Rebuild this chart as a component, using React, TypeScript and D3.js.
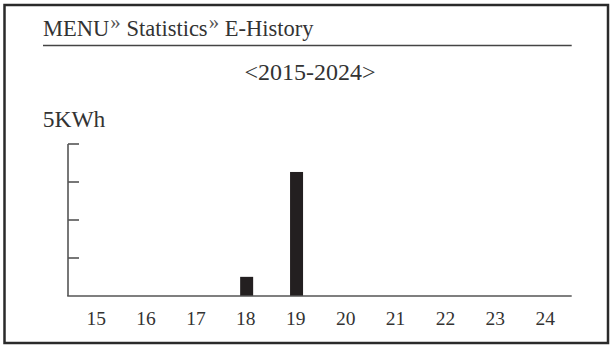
import React from "react";
import * as d3 from "d3";

const years = ["15", "16", "17", "18", "19", "20", "21", "22", "23", "24"];
const energy = [0, 0, 0, 0.63, 4.08, 0, 0, 0, 0, 0];
const yTicks = [1.25, 2.5, 3.75, 5];
const yMax = 5;
const unitLabel = "5KWh";
const rangeLabel = "<2015-2024>";
const crumbs = ["MENU", "Statistics", "E-History"];

export default function App() {
  const W = 612, H = 348;
  const x = d3.scaleBand<string>().domain(years).range([71.2, 570.2]).padding(0);
  const y = d3.scaleLinear().domain([0, yMax]).range([296, 144]);
  const barW = 13;
  const font = "'Liberation Serif', 'DejaVu Serif', serif";
  const textColor = "#333";
  const axisColor = "#555";

  return (
    <svg width={W} height={H} style={{ position: "absolute", left: 0, top: 0, background: "#fff" }}>
      <rect x={4.5} y={5} width={603.5} height={338} fill="#fff" stroke="#2a2a2a" strokeWidth={2.5} />
      <text x={43} y={36} fontFamily={font} fontSize={22.5} fill={textColor}>
        {crumbs.map((c, i) => (
          <React.Fragment key={c}>
            <tspan>{c}</tspan>
            {i < crumbs.length - 1 && (
              <>
                <tspan fontSize={21} dy={-7.5} dx={1} fill="#555">{"»"}</tspan>
                <tspan dy={7.5}>{" "}</tspan>
              </>
            )}
          </React.Fragment>
        ))}
      </text>
      <line x1={43} x2={571.7} y1={45.5} y2={45.5} stroke="#444" strokeWidth={1.5} />
      <text x={310} y={80} textAnchor="middle" fontFamily={font} fontSize={24} fill={textColor}>
        {rangeLabel}
      </text>
      <text x={42.7} y={127.3} fontFamily={font} fontSize={23.5} fill={textColor}>
        {unitLabel}
      </text>
      {/* y axis */}
      <line x1={68} x2={68} y1={y(yMax)} y2={y(0)} stroke={axisColor} strokeWidth={1.6} />
      {yTicks.map((t) => (
        <line key={t} x1={68} x2={79} y1={y(t)} y2={y(t)} stroke={axisColor} strokeWidth={1.6} />
      ))}
      {/* bars */}
      {years.map((yr, i) =>
        energy[i] > 0 ? (
          <rect
            key={yr}
            x={(x(yr) as number) + x.bandwidth() / 2 - barW / 2 + 0.8}
            y={y(energy[i])}
            width={barW}
            height={y(0) - y(energy[i])}
            fill="#231f20"
          />
        ) : null
      )}
      {/* x axis */}
      <line x1={67.2} x2={571.7} y1={y(0)} y2={y(0)} stroke={axisColor} strokeWidth={1.6} />
      {years.map((yr) => (
        <text
          key={yr}
          x={(x(yr) as number) + x.bandwidth() / 2}
          y={325}
          textAnchor="middle"
          fontFamily={font}
          fontSize={19.5}
          fill={textColor}
        >
          {yr}
        </text>
      ))}
    </svg>
  );
}
